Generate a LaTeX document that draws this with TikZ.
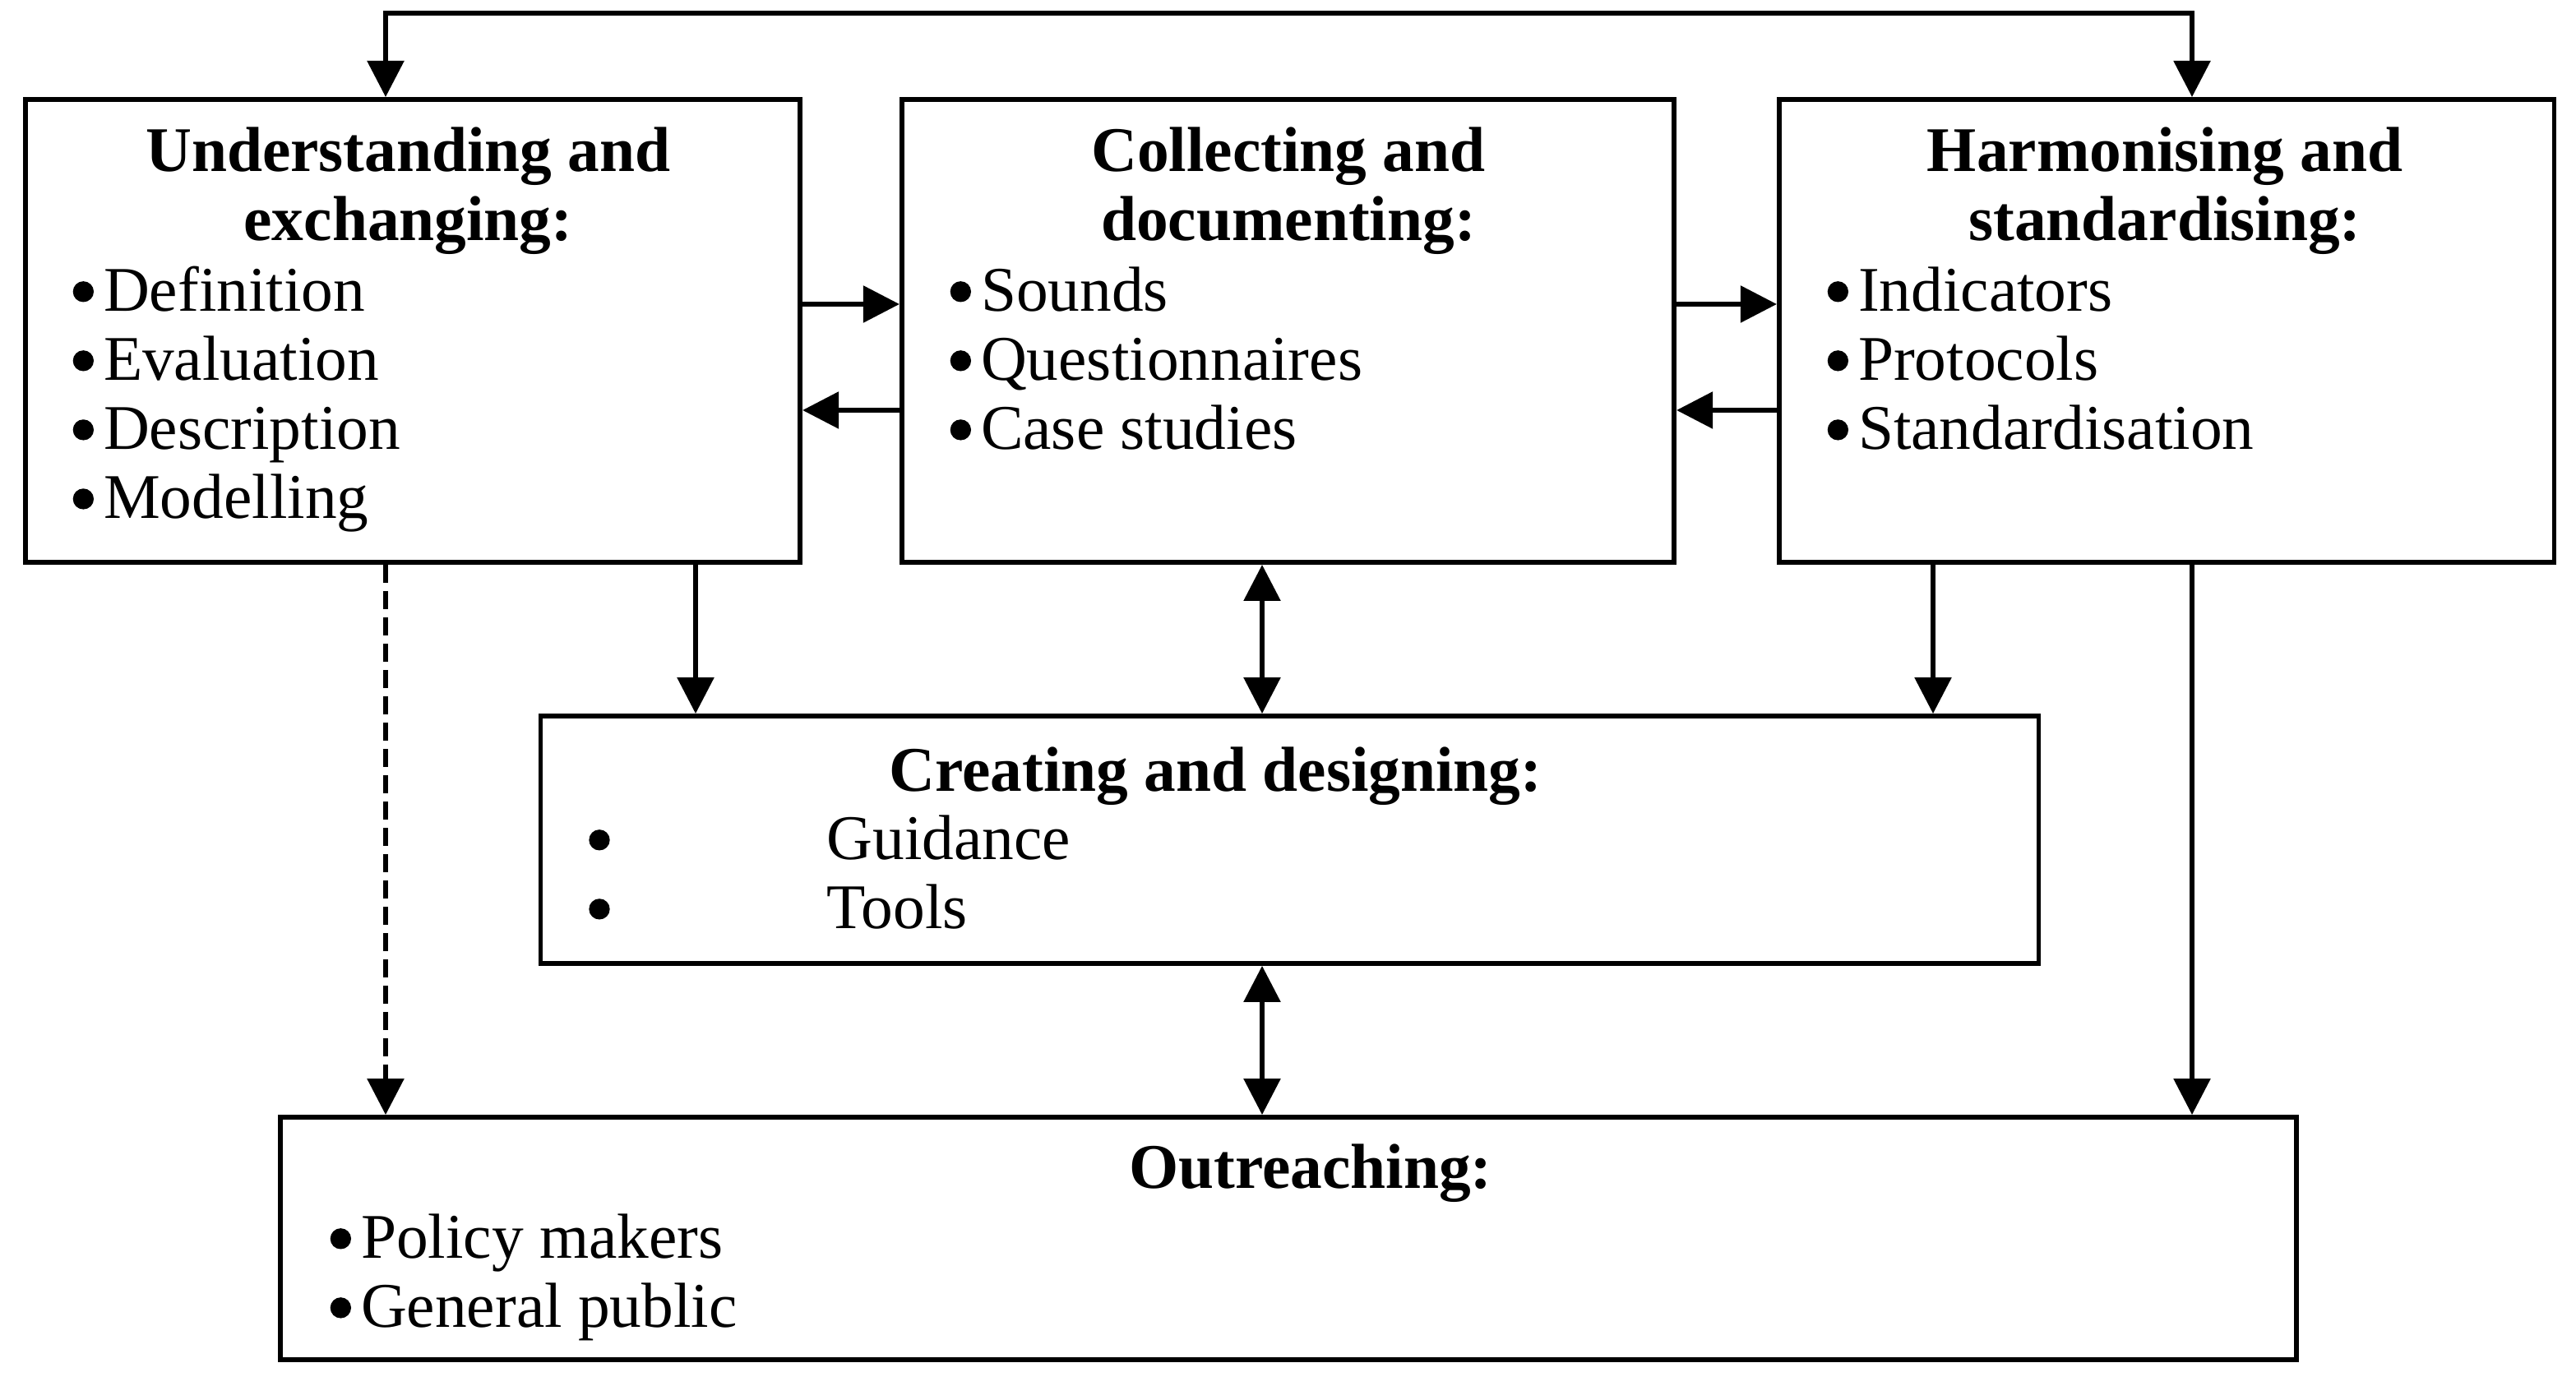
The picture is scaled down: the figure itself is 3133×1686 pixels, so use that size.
\documentclass[tikz,border=0pt]{standalone}
\usepackage{fontspec}
\setmainfont{Liberation Serif}
\usetikzlibrary{arrows.meta}
\newcommand\bul{\tikz[baseline=-6.8pt]\fill (0,0) circle (3.6pt);}
\newcommand\bl{\bul\hspace{0.12cm}}
\tikzset{
  box/.style={draw, line width=1.6pt, inner sep=0pt},
  txt/.style={inner sep=0pt, font=\fontsize{22}{23.9}\selectfont},
  ttl/.style={inner sep=0pt, align=center, anchor=north, font=\fontsize{22}{23.9}\selectfont\bfseries},
  lst/.style={txt, align=left, anchor=north west},
  blt/.style={txt, align=center, anchor=north},
  conn/.style={line width=1.6pt, -{Triangle[length=0.44cm,width=0.44cm]}},
  dconn/.style={line width=1.6pt, {Triangle[length=0.44cm,width=0.44cm]}-{Triangle[length=0.44cm,width=0.44cm]}},
  dashconn/.style={conn, dash pattern=on 0.22cm off 0.1cm},
}
\begin{document}
\begin{tikzpicture}[x=0.01cm,y=-0.01cm]
\useasboundingbox (0,0) rectangle (3133,1686);

% boxes
\node[box, minimum width=9.42cm, minimum height=5.63cm] (b1) at (502,402.5) {};
\node[box, minimum width=9.39cm, minimum height=5.63cm] (b2) at (1566.5,402.5) {};
\node[box, minimum width=9.42cm, minimum height=5.63cm] (b3) at (2635,402.5) {};
\node[box, minimum width=18.21cm, minimum height=3.01cm] (b4) at (1568.5,1021.5) {};
\node[box, minimum width=24.50cm, minimum height=2.95cm] (b5) at (1567,1506.5) {};

% texts
\node[ttl] (t1) at (496.5,149.2) {\strut Understanding and\\\strut exchanging:};
\node[lst] (l1) at (88,319.2) {\strut\bl Definition\\\strut\bl Evaluation\\\strut\bl Description\\\strut\bl Modelling};

\node[ttl] (t2) at (1567,149.2) {\strut Collecting and\\\strut documenting:};
\node[lst] (l2) at (1155,319.2) {\strut\bl Sounds\\\strut\bl Questionnaires\\\strut\bl Case studies};

\node[ttl] (t3) at (2633,149.2) {\strut Harmonising and\\\strut standardising:};
\node[lst] (l3) at (2222,319.2) {\strut\bl Indicators\\\strut\bl Protocols\\\strut\bl Standardisation};

\node[ttl] (t4) at (1478.5,903.2) {\strut Creating and designing:};
\node[blt] (k4) at (729,986.2) {\strut\bul\\\strut\bul};
\node[lst] (l4) at (1005,986.2) {\strut Guidance\\\strut Tools};

\node[ttl] (t5) at (1594,1386) {\strut Outreaching:};
\node[lst] (l5) at (401,1471.2) {\strut\bl Policy makers\\\strut\bl General public};

% connector coordinates
\coordinate (pA) at (469,16);
\coordinate (pB) at (2666,16);
\coordinate (hR) at (0,370);
\coordinate (hL) at (0,499);
\coordinate (vA) at (846,0);
\coordinate (vM) at (1535,0);
\coordinate (vC) at (2351,0);

% connectors
\draw[dconn] (b1.north -| pA) -- (pA) -- (pB) -- (b3.north -| pB);
\draw[conn] (b1.east |- hR) -- (b2.west |- hR);
\draw[conn] (b2.west |- hL) -- (b1.east |- hL);
\draw[conn] (b2.east |- hR) -- (b3.west |- hR);
\draw[conn] (b3.west |- hL) -- (b2.east |- hL);
\draw[conn] (b1.south -| vA) -- (b4.north -| vA);
\draw[dashconn] (b1.south -| pA) -- (b5.north -| pA);
\draw[dconn] (b2.south -| vM) -- (b4.north -| vM);
\draw[conn] (b3.south -| vC) -- (b4.north -| vC);
\draw[conn] (b3.south -| pB) -- (b5.north -| pB);
\draw[dconn] (b4.south -| vM) -- (b5.north -| vM);
\end{tikzpicture}
\end{document}
